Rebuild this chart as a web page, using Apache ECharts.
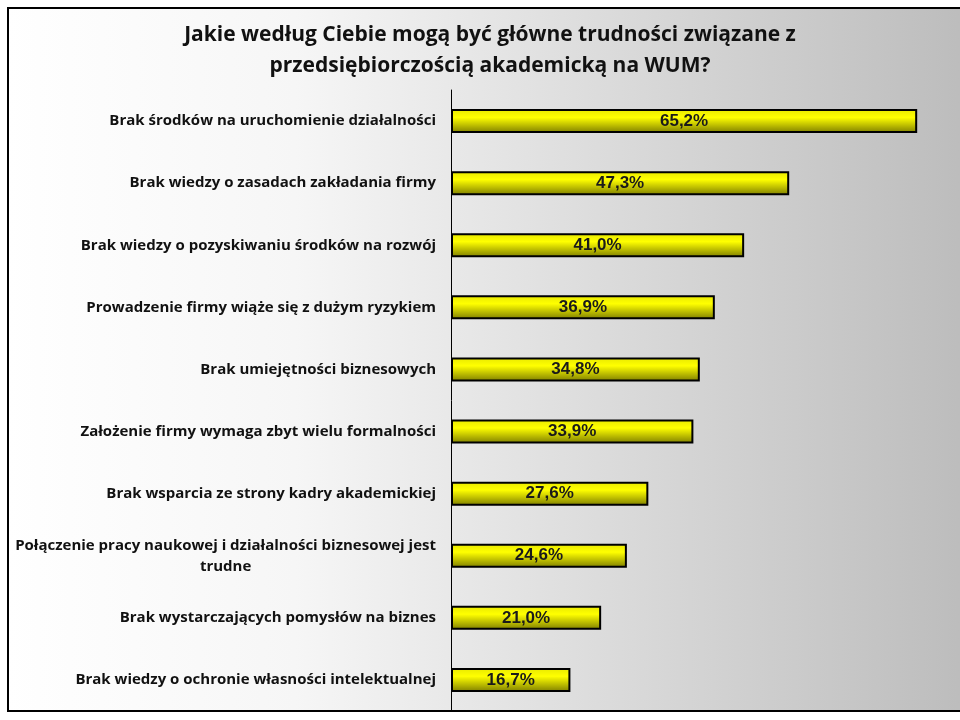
<!DOCTYPE html>
<html>
<head>
<meta charset="utf-8">
<script src="https://cdn.jsdelivr.net/npm/echarts@6/dist/echarts.min.js"></script>
<style>
  html, body { margin: 0; padding: 0; background: #fff; }
  #chart { width: 960px; height: 720px; }
</style>
</head>
<body>
<div id="chart"></div>
<script>
const categories = [
  'Brak środków na uruchomienie działalności',
  'Brak wiedzy o zasadach zakładania firmy',
  'Brak wiedzy o pozyskiwaniu środków na rozwój',
  'Prowadzenie firmy wiąże się z dużym ryzykiem',
  'Brak umiejętności biznesowych',
  'Założenie firmy wymaga zbyt wielu formalności',
  'Brak wsparcia ze strony kadry akademickiej',
  'Połączenie pracy naukowej i działalności biznesowej jest\ntrudne',
  'Brak wystarczających pomysłów na biznes',
  'Brak wiedzy o ochronie własności intelektualnej'
];
const values = [65.2, 47.3, 41.0, 36.9, 34.8, 33.9, 27.6, 24.6, 21.0, 16.7];

const chart = echarts.init(document.getElementById('chart'));

const option = {
  animation: false,
  backgroundColor: '#ffffff',
  graphic: [
    {
      type: 'rect',
      z: -10,
      silent: true,
      shape: { x: 8, y: 8, width: 960, height: 703 },
      style: {
        fill: new echarts.graphic.LinearGradient(0, 0, 1, 0, [
          { offset: 0, color: '#ffffff' },
          { offset: 0.3, color: '#f6f6f6' },
          { offset: 1, color: '#bcbcbc' }
        ]),
        stroke: '#000',
        lineWidth: 2
      }
    }
  ],
  title: {
    text: 'Jakie według Ciebie mogą być główne trudności związane z\nprzedsiębiorczością akademicką na WUM?',
    left: 485,
    top: 15,
    textAlign: 'center',
    textStyle: {
      fontFamily: 'Open Sans',
      fontWeight: 'bold',
      fontSize: 21,
      lineHeight: 31,
      color: '#111'
    }
  },
  grid: {
    left: 451,
    right: 8.5,
    top: 90,
    bottom: 9
  },
  xAxis: {
    type: 'value',
    min: 0,
    max: 70,
    show: false
  },
  yAxis: {
    type: 'category',
    inverse: true,
    data: categories,
    axisLine: { show: true, lineStyle: { color: '#000', width: 1 } },
    axisTick: { show: false },
    axisLabel: {
      margin: 15,
      fontFamily: 'Open Sans',
      fontWeight: 'bold',
      fontSize: 15,
      lineHeight: 21,
      color: '#111',
      formatter: function (v) {
        const parts = v.split('\n');
        if (parts.length === 1) return v;
        return '{a|' + parts[0] + '}\n{c|' + parts[1] + '}';
      },
      rich: {
        a: { fontFamily: 'Open Sans', fontWeight: 'bold', fontSize: 15, lineHeight: 21, color: '#111' },
        c: { fontFamily: 'Open Sans', fontWeight: 'bold', fontSize: 15, lineHeight: 21, color: '#111', align: 'center' }
      }
    }
  },
  series: [
    {
      type: 'bar',
      data: values,
      barWidth: 24,
      itemStyle: {
        color: new echarts.graphic.LinearGradient(0, 0, 0, 1, [
          { offset: 0, color: '#e8e800' },
          { offset: 0.35, color: '#ffff00' },
          { offset: 1, color: '#7d7d00' }
        ]),
        borderColor: '#000',
        borderWidth: 2
      },
      label: {
        show: true,
        position: 'inside',
        fontFamily: 'Liberation Sans',
        fontWeight: 'bold',
        fontSize: 17,
        color: '#1a1a1a',
        formatter: function (p) {
          return p.value.toFixed(1).replace('.', ',') + '%';
        }
      }
    }
  ]
};

chart.setOption(option);
</script>
</body>
</html>
